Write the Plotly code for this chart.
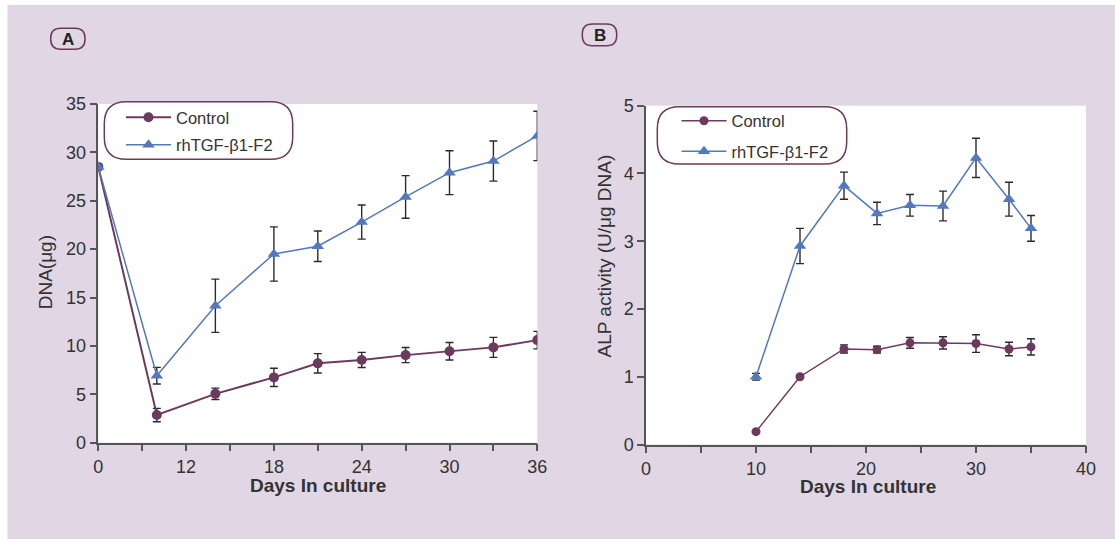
import plotly.graph_objects as go

# ---------------- data ----------------
# Panel A: axis positions of the sampling days (the first point is labelled "0")
x_a = [6, 10, 14, 18, 21, 24, 27, 30, 33, 36]
ctrl_a = [28.5, 2.86, 5.05, 6.75, 8.2, 8.55, 9.05, 9.45, 9.85, 10.6]
ctrl_a_err = [0, 0.69, 0.59, 0.95, 1.0, 0.78, 0.78, 0.91, 1.03, 0.9]
tgf_a = [28.5, 6.92, 14.15, 19.5, 20.3, 22.8, 25.4, 27.9, 29.1, 31.7]
tgf_a_err = [0, 0.86, 2.75, 2.8, 1.58, 1.76, 2.2, 2.27, 2.07, 2.55]
a_tickvals = [6, 9, 12, 15, 18, 21, 24, 27, 30, 33, 36]
a_ticktext = ["0", "", "12", "", "18", "", "24", "", "30", "", "36"]

# Panel B
x_b = [10, 14, 18, 21, 24, 27, 30, 33, 35]
ctrl_b = [0.19, 1.0, 1.41, 1.40, 1.50, 1.50, 1.49, 1.41, 1.44]
ctrl_b_err = [0, 0, 0.06, 0.05, 0.08, 0.09, 0.13, 0.10, 0.12]
tgf_b = [1.0, 2.93, 3.82, 3.41, 3.53, 3.52, 4.23, 3.62, 3.19]
tgf_b_err = [0.05, 0.26, 0.2, 0.165, 0.16, 0.22, 0.29, 0.25, 0.19]
b_tickvals = [0, 5, 10, 15, 20, 25, 30, 35, 40]
b_ticktext = ["0", "", "10", "", "20", "", "30", "", "40"]

# ---------------- style ----------------
W, H = 1115, 539
LAV = "#E0D6E4"
MAROON = "#6C3A5C"
BLUE = "#5279BE"
AXC = "#555555"
TXT = "#333333"
FONT = "Liberation Sans, Arial, Helvetica, sans-serif"


def px(x):
    return x / W


def py(y):
    return 1 - y / H


def rounded_path(x0, y0, x1, y1, r):
    pts = [
        ("M", [(x0 + r, y0)]),
        ("L", [(x1 - r, y0)]),
        ("Q", [(x1, y0), (x1, y0 + r)]),
        ("L", [(x1, y1 - r)]),
        ("Q", [(x1, y1), (x1 - r, y1)]),
        ("L", [(x0 + r, y1)]),
        ("Q", [(x0, y1), (x0, y1 - r)]),
        ("L", [(x0, y0 + r)]),
        ("Q", [(x0, y0), (x0 + r, y0)]),
    ]
    s = ""
    for cmd, ps in pts:
        s += cmd + " ".join(f"{px(a):.5f},{py(b):.5f}" for a, b in ps) + " "
    return s + "Z"


fig = go.Figure()

err_style = dict(type="data", color="#2b2b2b", thickness=1.4, width=4)

fig.add_trace(go.Scatter(
    x=x_a, y=ctrl_a, mode="lines+markers", name="Control",
    line=dict(color=MAROON, width=2),
    marker=dict(symbol="circle", size=10, color=MAROON),
    error_y=dict(array=ctrl_a_err, **err_style),
    xaxis="x", yaxis="y", legend="legend"))
fig.add_trace(go.Scatter(
    x=x_a, y=tgf_a, mode="lines+markers", name="rhTGF-β1-F2",
    line=dict(color=BLUE, width=1.5),
    marker=dict(symbol="triangle-up", size=11, color=BLUE),
    error_y=dict(array=tgf_a_err, **err_style),
    xaxis="x", yaxis="y", legend="legend2"))
fig.add_trace(go.Scatter(
    x=x_b, y=ctrl_b, mode="lines+markers", name="Control",
    line=dict(color=MAROON, width=1.5),
    marker=dict(symbol="circle", size=9, color=MAROON),
    error_y=dict(array=ctrl_b_err, **err_style),
    xaxis="x2", yaxis="y2", legend="legend3"))
fig.add_trace(go.Scatter(
    x=x_b, y=tgf_b, mode="lines+markers", name="rhTGF-β1-F2",
    line=dict(color=BLUE, width=1.5),
    marker=dict(symbol="triangle-up", size=11, color=BLUE),
    error_y=dict(array=tgf_b_err, **err_style),
    xaxis="x2", yaxis="y2", legend="legend4"))

axis_common = dict(
    showline=True, linecolor=AXC, linewidth=1.5, ticks="outside",
    ticklen=7, tickwidth=1.5, tickcolor=AXC, showgrid=False, zeroline=False,
    tickfont=dict(family=FONT, size=18, color=TXT), fixedrange=True,
    automargin=False,
)

# plot areas in pixels
A_L, A_R, A_T, A_B = 98.3, 537.3, 104.0, 442.7
B_L, B_R, B_T, B_B = 646.0, 1086.0, 105.7, 444.5

leg_common = dict(bgcolor="rgba(0,0,0,0)", borderwidth=0,
                  font=dict(family=FONT, size=16.5, color=TXT),
                  itemwidth=45, xanchor="left", yanchor="middle",
                  itemclick=False, itemdoubleclick=False)

fig.update_layout(
    width=W, height=H, autosize=False,
    margin=dict(l=0, r=0, t=0, b=0, autoexpand=False),
    paper_bgcolor=LAV, plot_bgcolor="white",
    showlegend=True,
    xaxis=dict(domain=[px(A_L), px(A_R)], range=[6, 36], tickvals=a_tickvals,
               ticktext=a_ticktext, anchor="y", **axis_common),
    yaxis=dict(domain=[py(A_B), py(A_T)], range=[0, 35], tickvals=list(range(0, 36, 5)),
               anchor="x", **axis_common),
    xaxis2=dict(domain=[px(B_L), px(B_R)], range=[0, 40], tickvals=b_tickvals,
                ticktext=b_ticktext, anchor="y2", **axis_common),
    yaxis2=dict(domain=[py(B_B), py(B_T)], range=[0, 5], tickvals=[0, 1, 2, 3, 4, 5],
                anchor="x2", **axis_common),
    legend=dict(x=px(121), y=py(117.5), **leg_common),
    legend2=dict(x=px(121), y=py(145), **leg_common),
    legend3=dict(x=px(676.5), y=py(121), **leg_common),
    legend4=dict(x=px(676.5), y=py(151.5), **leg_common),
)

shapes = [
    # white margin strips of the page
    dict(type="rect", xref="paper", yref="paper", x0=0, x1=px(7.5), y0=0, y1=1,
         fillcolor="white", line=dict(width=0), layer="above"),
    dict(type="rect", xref="paper", yref="paper", x0=0, x1=1, y0=py(5), y1=1,
         fillcolor="white", line=dict(width=0), layer="above"),
    # legend boxes
    dict(type="path", xref="paper", yref="paper",
         path=rounded_path(104.3, 101.7, 292.7, 159.3, 22),
         fillcolor="white", line=dict(color=MAROON, width=1.5), layer="above"),
    dict(type="path", xref="paper", yref="paper",
         path=rounded_path(657.3, 106.7, 846.7, 164.0, 22),
         fillcolor="white", line=dict(color=MAROON, width=1.5), layer="above"),
    # panel letter pills
    dict(type="path", xref="paper", yref="paper",
         path=rounded_path(50.7, 28.3, 85.0, 49.3, 10),
         fillcolor="rgba(0,0,0,0)", line=dict(color=MAROON, width=1.5), layer="above"),
    dict(type="path", xref="paper", yref="paper",
         path=rounded_path(582.3, 24.0, 616.7, 45.7, 10),
         fillcolor="rgba(0,0,0,0)", line=dict(color=MAROON, width=1.5), layer="above"),
]
fig.update_layout(shapes=shapes)

ann = [
    dict(text="<b>A</b>", x=px(67.8), y=py(39), font=dict(family=FONT, size=17, color="#222")),
    dict(text="<b>B</b>", x=px(599.5), y=py(35), font=dict(family=FONT, size=17, color="#222")),
    dict(text="<b>Days In culture</b>", x=px(317.8), y=py(485.5),
         font=dict(family=FONT, size=19, color=TXT)),
    dict(text="<b>Days In culture</b>", x=px(868), y=py(486),
         font=dict(family=FONT, size=19, color=TXT)),
    dict(text="DNA(μg)", x=px(45.8), y=py(272.5), textangle=-90,
         font=dict(family=FONT, size=19, color=TXT)),
    dict(text="ALP activity (U/μg DNA)", x=px(603.5), y=py(256), textangle=-90,
         font=dict(family=FONT, size=19, color=TXT)),
]
for a in ann:
    a.update(xref="paper", yref="paper", showarrow=False, xanchor="center", yanchor="middle")
fig.update_layout(annotations=ann)

css_fix = (
    "document.body.style.margin='0';"
    "document.body.style.overflow='hidden';"
)

fig.write_html("out.html", config={"displayModeBar": False}, post_script=css_fix)
